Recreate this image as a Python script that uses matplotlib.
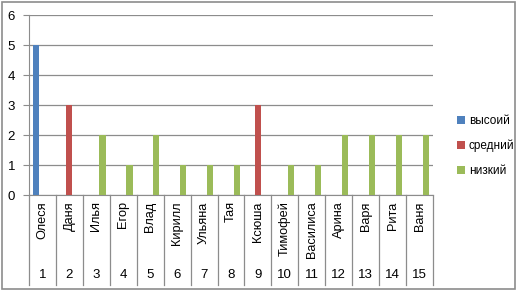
import matplotlib.pyplot as plt
from matplotlib.patches import Rectangle
import numpy as np

names = ["Олеся", "Даня", "Илья", "Егор", "Влад", "Кирилл", "Ульяна", "Тая",
         "Ксюша", "Тимофей", "Василиса", "Арина", "Варя", "Рита", "Ваня"]
numbers = [str(i) for i in range(1, 16)]
series_names = ["высоий", "средний", "низкий"]
high = [5, 0, 0, 0, 0, 0, 0, 0, 0, 0, 0, 0, 0, 0, 0]
mid = [0, 3, 0, 0, 0, 0, 0, 0, 3, 0, 0, 0, 0, 0, 0]
low = [0, 0, 2, 1, 2, 1, 1, 1, 0, 1, 1, 2, 2, 2, 2]
colors = ["#4F81BD", "#C0504D", "#9BBB59"]

plt.rcParams["font.family"] = ["Liberation Sans", "DejaVu Sans"]
fig = plt.figure(figsize=(5.17, 2.91), dpi=100)
ax = fig.add_axes([29 / 517, 1 - 195 / 291, (433 - 29) / 517, 180 / 291])

x = np.arange(len(names))
w = 0.23
for i, (vals, lab, c) in enumerate(zip([high, mid, low], series_names, colors)):
    ax.bar(x + (i - 1) * w, vals, width=w, color=c, label=lab, linewidth=0, zorder=3)

ax.set_xlim(-0.5, len(names) - 0.5)
ax.set_ylim(0, 6)
ax.set_yticks(range(7))
ax.yaxis.grid(True, color="#8C8C8C", linewidth=0.9, zorder=0)
for s in ["top", "right"]:
    ax.spines[s].set_visible(False)
for s in ["left", "bottom"]:
    ax.spines[s].set_color("#8C8C8C")
ax.tick_params(axis="y", length=4, color="#8C8C8C", labelsize=9.5, pad=6)
ax.set_xticks([])

# multi-level category labels
trans = ax.get_xaxis_transform()
for b in np.arange(len(names) + 1) - 0.5:
    ax.plot([b, b], [0, -0.5], transform=trans, color="#8C8C8C", linewidth=0.9, clip_on=False)
for xi, nm, num in zip(x, names, numbers):
    ax.text(xi, -0.035, nm, transform=trans, rotation=90, ha="center", va="top", fontsize=9.2)
    ax.text(xi, -0.445, num, transform=trans, ha="center", va="center", fontsize=9.5)

ax.legend(loc="center left", bbox_to_anchor=(451 / 517, 1 - 146 / 291), bbox_transform=fig.transFigure,
          frameon=False, fontsize=8.5, handlelength=0.7, handleheight=0.7, handletextpad=0.3,
          labelspacing=1.1, borderpad=0)

fig.patches.append(Rectangle((2 / 517, 2 / 291), 513 / 517, 287 / 291, transform=fig.transFigure,
                             fill=False, edgecolor="#8C8C8C", linewidth=1.2))

fig.savefig("out.png", dpi=100)
